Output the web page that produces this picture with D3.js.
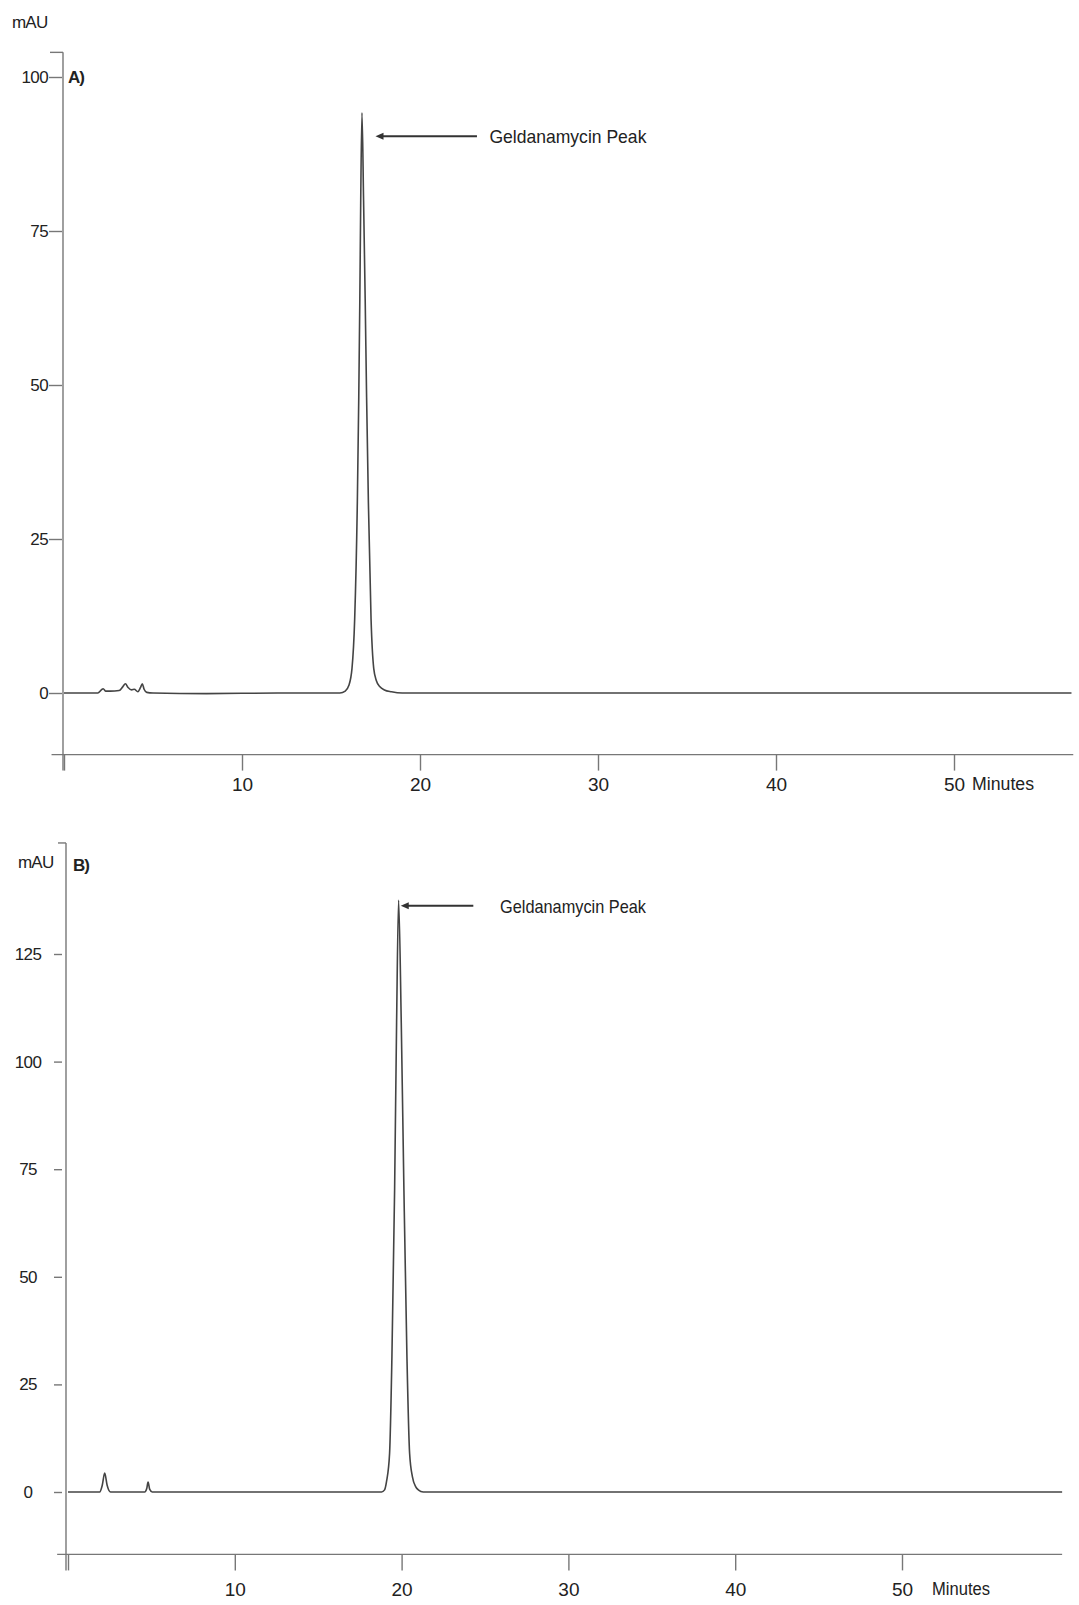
<!DOCTYPE html>
<html>
<head>
<meta charset="utf-8">
<script src="https://cdn.jsdelivr.net/npm/d3@7"></script>
<style>
  body { margin: 0; background: #fff; }
  svg { display: block; font-family: "Liberation Sans", Arial, sans-serif; }
  .tick text { fill: #222; }
</style>
</head>
<body>
<script>
// chromatogram data (time in min, signal in mAU)
const timeA = [0, 1.9, 2.1, 2.2, 2.35, 2.6, 3.1, 3.3, 3.45, 3.6, 3.8, 3.95, 4.15, 4.3, 4.4, 4.5, 4.65, 5, 8, 12, 15.5,
  15.8, 16.0, 16.18, 16.33, 16.48, 16.56, 16.62, 16.67, 16.74, 16.83, 16.92, 17.0, 17.1, 17.25, 17.4, 17.55, 17.75,
  18.0, 18.4, 19, 30, 45, 56.6];
const mauA = [0, 0, 0.5, 0.7, 0.3, 0.3, 0.4, 1.0, 1.5, 0.9, 0.5, 0.6, 0.2, 0.9, 1.5, 0.6, 0.1, 0, -0.1, 0, 0,
  0.3, 1.2, 4, 12, 31, 48, 64, 80, 94.2, 80, 64, 48, 31, 12, 4, 2, 1,
  0.5, 0.2, 0, 0, 0, 0];

const timeB = [0, 1.9, 2.05, 2.2, 2.35, 2.55, 4.6, 4.72, 4.8, 4.9, 5.05, 10, 18.8, 18.98, 19.1, 19.28, 19.42, 19.58,
  19.7, 19.82, 19.98, 20.14, 20.32, 20.48, 20.65, 20.85, 21.0, 21.3, 30, 45, 59.6];
const mauB = [0, 0, 1.5, 4.4, 1.5, 0, 0, 0.8, 2.3, 0.6, 0, 0, 0, 0.5, 2.5, 9, 31.4, 70,
  109, 137.5, 109, 70, 31.4, 9, 3.5, 1.2, 0.5, 0, 0, 0, 0];

// tick values for each panel
const xTicks = [0, 10, 20, 30, 40, 50];
const yTicksA = [0, 25, 50, 75, 100];
const yTicksB = [0, 25, 50, 75, 100, 125];

const peakLabel = "Geldanamycin Peak";

const width = 1079, height = 1605;

const svg = d3.select("body").append("svg")
  .attr("width", width)
  .attr("height", height);

svg.append("rect").attr("width", width).attr("height", height).attr("fill", "#fff");

const axisColor = "#777", lineColor = "#444";

// draws one panel, cfg holds its geometry
function drawPanel(cfg) {
  const x = d3.scaleLinear().domain([0, 50]).range(cfg.xRange);
  const y = d3.scaleLinear().domain([0, cfg.yTop]).range(cfg.yRange);
  const g = svg.append("g");

  // x axis line and ticks
  g.append("line")
    .attr("x1", x(cfg.xMin)).attr("x2", x(cfg.xMax))
    .attr("y1", y(cfg.yMin)).attr("y2", y(cfg.yMin))
    .attr("stroke", axisColor).attr("stroke-width", 1.4);

  const xAxis = g.append("g")
    .attr("transform", `translate(0,${y(cfg.yMin)})`)
    .call(d3.axisBottom(x).tickValues(xTicks).tickSize(cfg.xTickLen).tickPadding(cfg.xPad)
      .tickFormat(d => d === 0 ? "" : d));
  xAxis.select(".domain").remove();
  xAxis.selectAll(".tick line").attr("stroke", axisColor).attr("stroke-width", 1.4);
  xAxis.selectAll(".tick text").attr("font-size", 19).attr("font-family", "Liberation Sans, Arial");

  // "Minutes" next to the last label, same baseline as tick text
  g.append("text")
    .attr("x", x(50) + cfg.minutesDx)
    .attr("y", y(cfg.yMin) + cfg.xTickLen + cfg.xPad)
    .attr("dy", "0.71em")
    .attr("font-size", 18).attr("fill", "#222")
    .attr("textLength", cfg.minutesLen).attr("lengthAdjust", "spacingAndGlyphs")
    .text("Minutes");

  // y axis line with little cap at top
  const ax = cfg.yAxisX;
  g.append("line")
    .attr("x1", ax).attr("x2", ax)
    .attr("y1", y(cfg.yMax)).attr("y2", y(cfg.yMin) + cfg.xTickLen)
    .attr("stroke", axisColor).attr("stroke-width", 1.4);
  g.append("line")
    .attr("x1", ax - cfg.capLen).attr("x2", ax)
    .attr("y1", y(cfg.yMax)).attr("y2", y(cfg.yMax))
    .attr("stroke", axisColor).attr("stroke-width", 1.4);

  const yAxis = g.append("g")
    .attr("transform", `translate(${ax - cfg.yTickGap},0)`)
    .call(d3.axisLeft(y).tickValues(cfg.yTicks).tickSize(cfg.yTickLen).tickPadding(1));
  yAxis.select(".domain").remove();
  yAxis.selectAll(".tick line").attr("stroke", axisColor).attr("stroke-width", 1.4);
  yAxis.selectAll(".tick text")
    .attr("font-size", 17).attr("font-family", "Liberation Sans, Arial")
    .attr("letter-spacing", -0.6);
  if (cfg.yLabelCenter != null) {
    yAxis.selectAll(".tick text")
      .attr("text-anchor", "middle")
      .attr("x", cfg.yLabelCenter - (ax - cfg.yTickGap));
  }

  // unit and panel letter
  g.append("text")
    .attr("x", cfg.mauPos[0]).attr("y", cfg.mauPos[1])
    .attr("font-size", 17).attr("fill", "#222").attr("letter-spacing", -0.8)
    .text("mAU");
  g.append("text")
    .attr("x", cfg.letterPos[0]).attr("y", cfg.letterPos[1])
    .attr("font-size", 17).attr("font-weight", "bold").attr("fill", "#222").attr("letter-spacing", -1)
    .text(cfg.letter);

  // trace
  const line = d3.line()
    .x((d, i) => x(cfg.times[i]))
    .y(d => y(d))
    .curve(d3.curveMonotoneX);
  g.append("path")
    .datum(cfg.values)
    .attr("d", line)
    .attr("fill", "none")
    .attr("stroke", lineColor)
    .attr("stroke-width", 1.6);

  // annotation arrow and label
  const ay = y(cfg.arrow.y);
  g.append("line")
    .attr("x1", x(cfg.arrow.from) + 6).attr("x2", x(cfg.arrow.to))
    .attr("y1", ay).attr("y2", ay)
    .attr("stroke", "#333").attr("stroke-width", 2);
  g.append("path")
    .attr("d", `M${x(cfg.arrow.from)},${ay} l8,-3.5 l0,7 z`)
    .attr("fill", "#333");
  g.append("text")
    .attr("x", x(cfg.arrow.text)).attr("y", ay + 7)
    .attr("font-size", 19).attr("fill", "#222")
    .attr("textLength", cfg.arrow.len).attr("lengthAdjust", "spacingAndGlyphs")
    .text(peakLabel);
}

drawPanel({
  letter: "A)",
  times: timeA, values: mauA,
  xRange: [64, 954], xMin: -0.7, xMax: 56.7,
  yTop: 100, yRange: [693, 77], yMin: -10, yMax: 104,
  yTicks: yTicksA, yAxisX: 63, yTickGap: 1, yTickLen: 13, capLen: 13, yLabelCenter: null,
  xTickLen: 16, xPad: 7, minutesDx: 18, minutesLen: 62,
  mauPos: [12, 28], letterPos: [68, 83],
  arrow: { y: 90.4, from: 17.5, to: 23.2, text: 23.9, len: 157 }
});

drawPanel({
  letter: "B)",
  times: timeB, values: mauB,
  xRange: [68, 902], xMin: -0.65, xMax: 59.6,
  yTop: 125, yRange: [1492, 954], yMin: -14.5, yMax: 150.8,
  yTicks: yTicksB, yAxisX: 66, yTickGap: 4, yTickLen: 8, capLen: 8, yLabelCenter: 28,
  xTickLen: 16, xPad: 12, minutesDx: 30, minutesLen: 58,
  mauPos: [18, 868], letterPos: [73, 871],
  arrow: { y: 136.2, from: 19.95, to: 24.3, text: 25.9, len: 146 }
});
</script>
</body>
</html>
